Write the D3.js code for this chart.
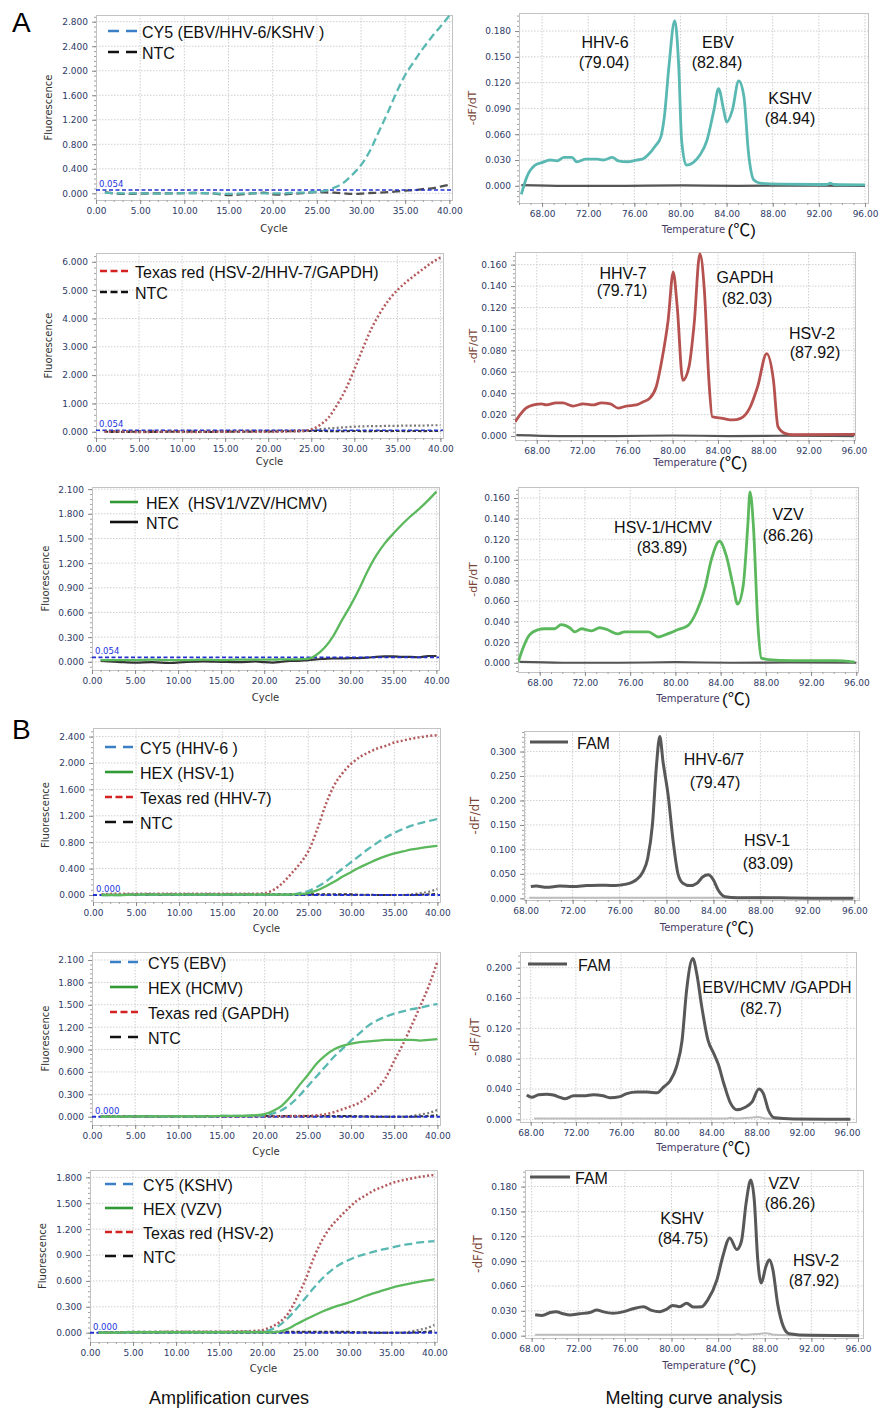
<!DOCTYPE html>
<html><head><meta charset="utf-8">
<script src="https://cdn.jsdelivr.net/npm/d3@7"></script>
<style>body{margin:0;background:#fff}svg{display:block}text{white-space:pre}</style>
</head><body>
<svg id="c" width="891" height="1409"></svg>
<script>
// ---------------- DATA ----------------
const ampCycles = [1,3,5,7,9,11,13,15,17,19,20,21,22,23,24,25,26,27,28,29,30,31,32,33,34,35,36,37,38,39,40];
const ampXTicks = [0,5,10,15,20,25,30,35,40];
const meltXTicks = [68,72,76,80,84,88,92,96];

// A1 amplification
const a1Cy5 = [0.01,0.0,0.0,-0.005,0.0,0.005,0.0,-0.01,0.0,0.0, 0.0,0.0,0.005,0.01,0.015, 0.027,0.045,0.095,0.17,0.30,0.46,0.69,1.0,1.31,1.64,1.93,2.15,2.36,2.55,2.72,2.90];
const a1Ntc = [0.02,-0.01,-0.005,0.0,0.0,0.005,0.0,-0.03,-0.01,0.01, -0.015,-0.02,-0.01,0.0,0.01, 0.02,0.015,0.01,0.0,-0.01,-0.005,0.005,0.01,0.02,0.03,0.045,0.05,0.07,0.08,0.11,0.14];
const a1AmpYTicks = [0,0.4,0.8,1.2,1.6,2.0,2.4,2.8];
// A2 amplification
const a2TexasRed = [0.0,0.01,-0.01,0.0,0.01,-0.01,0.0,0.0,0.01,0.0, 0.0,0.005,0.01,0.02,0.03, 0.08,0.24,0.5,0.95,1.5,2.2,2.95,3.65,4.2,4.65,5.0,5.28,5.52,5.75,5.97,6.15];
const a2Ntc = [0.0,-0.01,0.0,-0.01,0.0,0.0,-0.01,0.0,0.0,0.01, 0.01,0.01,0.02,0.02,0.02, 0.03,0.03,0.02,0.02,0.02,0.03,0.02,0.02,0.03,0.02,0.03,0.02,0.03,0.02,0.03,0.02];
const a2NtcLate = [0.03,0.02,0.02,0.03,0.02,0.03,0.02,0.03,0.03,0.03, 0.03,0.04,0.04,0.04,0.05, 0.06,0.09,0.12,0.14,0.16,0.18,0.19,0.2,0.2,0.21,0.21,0.22,0.22,0.22,0.23,0.23];
const a2AmpYTicks = [0,1,2,3,4,5,6];
// A3 amplification
const a3Hex = [0.02,0.02,0.02,0.025,0.02,0.02,0.025,0.02,0.025,0.025, 0.025,0.025,0.03,0.03,0.03, 0.035,0.08,0.17,0.31,0.5,0.68,0.88,1.1,1.29,1.44,1.56,1.67,1.77,1.86,1.96,2.07];
const a3Ntc = [0.01,0.0,-0.01,-0.005,-0.015,0.0,0.005,0.0,-0.005,0.005, -0.005,-0.01,0.0,0.01,0.01, 0.02,0.03,0.035,0.04,0.04,0.045,0.045,0.05,0.06,0.065,0.065,0.06,0.06,0.055,0.07,0.07];
const a3AmpYTicks = [0,0.3,0.6,0.9,1.2,1.5,1.8,2.1];
// B1 amplification
const b1TexasRed = [0.01,0.02,0.02,0.02,0.02,0.02,0.02,0.02,0.02,0.02, 0.03,0.08,0.18,0.32,0.47, 0.66,0.98,1.36,1.66,1.85,1.99,2.09,2.16,2.22,2.26,2.31,2.34,2.37,2.39,2.41,2.42];
const b1Cy5 = [0.0,0.0,0.005,0.005,0.005,0.005,0.005,0.005,0.005,0.005, 0.005,0.005,0.005,0.01,0.03, 0.06,0.12,0.2,0.3,0.4,0.5,0.6,0.7,0.79,0.87,0.94,1.0,1.05,1.09,1.12,1.15];
const b1Hex = [0.0,0.0,0.005,0.005,0.005,0.005,0.005,0.005,0.005,0.005, 0.005,0.005,0.005,0.005,0.015, 0.03,0.07,0.13,0.2,0.28,0.35,0.42,0.48,0.54,0.59,0.63,0.66,0.69,0.71,0.73,0.745];
const b1AmpYTicks = [0,0.4,0.8,1.2,1.6,2.0,2.4];
// B2 amplification
const b2Hex = [0.0,0.0,0.005,0.005,0.005,0.005,0.005,0.01,0.01,0.02, 0.036,0.08,0.15,0.27,0.42, 0.56,0.71,0.82,0.9,0.95,0.98,1.0,1.01,1.02,1.03,1.03,1.03,1.03,1.02,1.03,1.04];
const b2Cy5 = [0.0,0.0,0.005,0.005,0.005,0.005,0.005,0.01,0.01,0.015, 0.02,0.045,0.09,0.17,0.28, 0.41,0.54,0.67,0.8,0.91,1.02,1.12,1.22,1.29,1.34,1.38,1.41,1.44,1.46,1.49,1.51];
const b2TexasRed = [0.0,0.0,0.0,0.005,0.005,0.005,0.005,0.005,0.005,0.005, 0.005,0.005,0.005,0.01,0.01, 0.01,0.02,0.03,0.06,0.1,0.14,0.19,0.27,0.37,0.52,0.75,0.97,1.22,1.48,1.75,2.08];
const b2AmpYTicks = [0,0.3,0.6,0.9,1.2,1.5,1.8,2.1];
// B3 amplification
const b3TexasRed = [0.0,0.0,0.005,0.005,0.01,0.01,0.01,0.01,0.015,0.02, 0.03,0.065,0.12,0.22,0.4, 0.61,0.87,1.08,1.23,1.34,1.44,1.53,1.59,1.65,1.69,1.73,1.76,1.78,1.8,1.815,1.83];
const b3Cy5 = [0.0,0.0,0.005,0.005,0.005,0.005,0.005,0.005,0.01,0.01, 0.01,0.035,0.085,0.17,0.28, 0.4,0.52,0.63,0.72,0.79,0.84,0.88,0.91,0.94,0.965,0.985,1.01,1.025,1.043,1.053,1.062];
const b3Hex = [0.0,0.0,0.005,0.005,0.005,0.005,0.005,0.005,0.005,0.005, 0.005,0.005,0.012,0.045,0.1, 0.15,0.2,0.245,0.285,0.318,0.348,0.385,0.425,0.458,0.49,0.52,0.545,0.566,0.585,0.603,0.618];
const b3AmpYTicks = [0,0.3,0.6,0.9,1.2,1.5,1.8];
// NTC in B panels
const bNtc = [0.005,0.005,0.01,0.01,0.01,0.01,0.01,0.01,0.01,0.01, 0.01,0.01,0.01,0.01,0.01, 0.01,0.01,0.01,0.01,0.01,0.01,0.005,0.005,0.0,0.0,0.0,0.0,0.0,0.005,0.01,0.02];
const bNtcLate = [0,0,0,0,0,0,0,0,0,0, 0,0,0,0,0, 0,0,0,0,0,0,0,0,0,0,0,0,0.01,0.03,0.05,0.09];

// Melting curves
const a1MeltT = [66.2,66.7,67.4,68.0,68.7,69.3,69.9,70.6,71.0,71.8,72.8,73.3,74.1,74.6,75.4,76.2,76.7,77.2,77.8,78.3,78.6,79.0,79.5,79.85,80.1,80.5,81.1,81.7,82.3,82.9,83.3,83.75,84.0,84.5,85.05,85.5,85.9,86.35,86.9,88.7,92.7,93.0,93.3,96.0];
const a1MeltV = [-0.010,0.011,0.024,0.027,0.030,0.029,0.033,0.033,0.028,0.031,0.031,0.030,0.033,0.029,0.028,0.030,0.031,0.036,0.046,0.057,0.080,0.139,0.192,0.139,0.053,0.024,0.027,0.036,0.053,0.088,0.113,0.088,0.074,0.088,0.122,0.104,0.038,0.007,0.003,0.002,0.0015,0.003,0.0015,0.001];
const a1MeltYTicks = [0,0.03,0.06,0.09,0.12,0.15,0.18];
const a2MeltT = [66.1,66.6,67.05,67.95,68.4,68.85,69.7,70.3,71.2,72.1,73.0,73.7,74.5,75.2,75.9,76.8,77.4,77.95,78.55,79.1,79.6,80.05,80.4,80.9,81.45,81.9,82.4,82.8,83.2,83.5,84.4,85.3,86.0,86.8,87.5,88.3,88.9,89.3,89.9,90.6,96.1];
const a2MeltV = [0.0134,0.021,0.026,0.0295,0.030,0.029,0.031,0.031,0.028,0.030,0.029,0.031,0.030,0.026,0.028,0.029,0.032,0.035,0.046,0.074,0.108,0.153,0.121,0.052,0.065,0.105,0.170,0.136,0.052,0.018,0.0165,0.015,0.0165,0.026,0.046,0.077,0.052,0.0087,0.0025,0.0012,0.0015];
const a2MeltYTicks = [0,0.02,0.04,0.06,0.08,0.10,0.12,0.14,0.16];
const a3MeltT = [66.1,66.5,67.1,67.85,68.4,69.3,69.9,70.65,71.1,71.7,72.6,73.3,74.0,74.9,75.5,76.7,77.6,78.5,79.3,80.2,81.1,81.85,82.6,83.2,83.9,84.5,85.1,85.5,86.0,86.4,86.6,86.9,87.3,87.6,88.2,90.3,94.1,95.85];
const a3MeltV = [0.0006,0.0136,0.027,0.032,0.033,0.033,0.037,0.034,0.030,0.033,0.031,0.034,0.032,0.028,0.030,0.030,0.030,0.025,0.028,0.032,0.036,0.049,0.072,0.101,0.118,0.104,0.075,0.057,0.075,0.133,0.166,0.133,0.036,0.0045,0.003,0.002,0.002,0.0006];
const a3MeltYTicks = [0,0.02,0.04,0.06,0.08,0.10,0.12,0.14,0.16];
const aNtcMeltT = [66.2,70,75,80,85,90,96];
const aNtcMeltV = [0.0008,0.0,0.0,0.0005,0.0,0.0003,0.0];
const b1MeltT = [68.44,68.9,69.8,70.9,72.05,73.2,74.3,75.45,76.0,76.9,77.4,78.0,78.4,78.8,79.15,79.43,79.7,80.14,80.57,81.0,81.4,82.0,82.6,83.1,83.55,84.0,84.4,85.0,86.0,87.95,90.8,95.9];
const b1MeltV = [0.024,0.025,0.0225,0.025,0.024,0.026,0.027,0.026,0.027,0.031,0.0375,0.0545,0.082,0.15,0.273,0.331,0.28,0.211,0.116,0.048,0.031,0.026,0.031,0.044,0.048,0.0375,0.017,0.0034,0.0014,0.0014,0.0007,0.0];
const b1MeltYTicks = [0,0.05,0.10,0.15,0.20,0.25,0.30];
const b2MeltT = [67.65,68.1,68.7,69.4,70.0,70.6,71.0,71.8,72.7,73.55,74.4,75.0,75.9,76.5,77.4,78.3,79.2,79.75,80.35,80.9,81.4,81.8,82.35,82.7,83.15,83.7,84.2,84.6,85.1,85.7,86.25,87.0,87.6,88.2,88.6,89.05,89.6,91.3,96.3];
const b2MeltV = [0.032,0.029,0.0325,0.033,0.032,0.029,0.027,0.031,0.031,0.0325,0.031,0.0285,0.030,0.034,0.036,0.036,0.035,0.0425,0.051,0.069,0.104,0.170,0.212,0.192,0.148,0.104,0.087,0.073,0.047,0.021,0.0127,0.016,0.023,0.040,0.034,0.012,0.002,0.0004,0.0];
const b2MeltYTicks = [0,0.04,0.08,0.12,0.16,0.20];
const b3MeltT = [68.3,68.9,69.6,70.1,70.7,71.3,72.1,73.0,73.6,74.1,75.0,75.9,76.7,77.6,78.3,79.0,79.6,80.1,80.7,81.3,81.9,82.6,83.1,83.9,84.4,85.0,85.6,86.0,86.4,86.8,87.1,87.4,87.7,88.1,88.4,88.7,89.1,89.6,90.1,91.9,96.1];
const b3MeltV = [0.0253,0.0245,0.028,0.029,0.0265,0.025,0.0265,0.028,0.031,0.029,0.027,0.029,0.0325,0.035,0.0305,0.029,0.032,0.0365,0.035,0.039,0.0345,0.035,0.043,0.0675,0.0956,0.118,0.104,0.114,0.16,0.188,0.164,0.0916,0.0635,0.0836,0.0916,0.0795,0.039,0.011,0.0024,0.0004,0.0];
const b3MeltYTicks = [0,0.03,0.06,0.09,0.12,0.15,0.18];
const bNtcMeltT = [68.3,75,80,85.3,85.7,86.1,87.4,88.1,88.8,90,96];
const bNtcMeltV = [0.001,0.001,0.001,0.001,0.002,0.001,0.002,0.003,0.001,0.0005,0.0005];

// ---------------- STYLES ----------------
const TICKFONT = "'DejaVu Sans', Verdana, sans-serif";
const TEXTFONT = "'Liberation Sans', Arial, 'Noto Sans CJK SC', sans-serif";
const C = {
  teal: '#5ab8b2', red: '#b45a5d', green: '#5bb85d', ntc: '#505050',
  legCy5: '#3b7fc6', legHex: '#2f9a33', legRed: '#d42222', legNtc: '#111',
  thr: '#2230d0', tick: '#2e3a66'
};
const S = {
  cy5: {stroke: C.teal, w: 2.3, dash: '8,4'},
  tred: {stroke: C.red, w: 2.5, dash: '2,2.3'},
  hex: {stroke: C.green, w: 2.3, dash: null},
  ntcDash: {stroke: C.ntc, w: 2.3, dash: '8,4'},
  ntcShort: {stroke: '#333', w: 2, dash: '3.5,2'},
  ntcSolid: {stroke: '#333', w: 2.2, dash: null},
  ntcDot: {stroke: '#7a7a7a', w: 2.2, dash: '2,2.3'}
};
const LEG = {
  cy5: {stroke: C.legCy5, dash: '11,7'},
  hex: {stroke: C.legHex, dash: null},
  tred: {stroke: C.legRed, dash: '7,3.5'},
  ntcLong: {stroke: C.legNtc, dash: '11,7'},
  ntcShort: {stroke: C.legNtc, dash: '7,3.5'},
  ntcSolid: {stroke: C.legNtc, dash: null},
  fam: {stroke: '#555', dash: null}
};

const svg = d3.select('#c');
const defs = svg.append('defs');
let clipN = 0;

function minorVals(domain, step) {
  const lo = Math.ceil(domain[0] / step - 1e-9), hi = Math.floor(domain[1] / step + 1e-9);
  return d3.range(lo, hi + 1).map(i => +(i * step).toFixed(6));
}

function frame(cfg, x, y) {
  const b = cfg.box;
  const g = svg.append('g');
  g.append('rect').attr('x', b.l).attr('y', b.t).attr('width', b.r - b.l).attr('height', b.b - b.t)
    .attr('fill', '#fff');
  g.append('g').selectAll('line').data(cfg.xTicks.filter(v => x(v) > b.l + 1 && x(v) < b.r - 1)).join('line')
    .attr('x1', d => x(d)).attr('x2', d => x(d)).attr('y1', b.t).attr('y2', b.b)
    .attr('stroke', '#cfcfcf').attr('stroke-dasharray', '1.5,1.5');
  g.append('g').selectAll('line').data(cfg.yTicks).join('line')
    .attr('x1', b.l).attr('x2', b.r).attr('y1', d => y(d)).attr('y2', d => y(d))
    .attr('stroke', '#cfcfcf').attr('stroke-dasharray', '1.5,1.5');
  g.append('rect').attr('x', b.l + 0.5).attr('y', b.t + 0.5).attr('width', b.r - b.l).attr('height', b.b - b.t)
    .attr('fill', 'none').attr('stroke', '#c3c3c3');

  const xs = cfg.xTicks[1] - cfg.xTicks[0], ys = cfg.yTicks[1] - cfg.yTicks[0];
  const xm = g.append('g').attr('transform', `translate(0,${b.b})`)
    .call(d3.axisBottom(x).tickValues(minorVals(x.domain(), xs / cfg.xSub)).tickFormat(() => '').tickSize(2));
  xm.select('.domain').remove(); xm.selectAll('line').attr('stroke', '#a0a0a0');
  const ym = g.append('g').attr('transform', `translate(${b.l},0)`)
    .call(d3.axisLeft(y).tickValues(minorVals(y.domain(), ys / 5)).tickFormat(() => '').tickSize(2));
  ym.select('.domain').remove(); ym.selectAll('line').attr('stroke', '#a0a0a0');
  const xa = g.append('g').attr('transform', `translate(0,${b.b})`)
    .call(d3.axisBottom(x).tickValues(cfg.xTicks).tickFormat(d3.format('.2f')).tickSize(4).tickPadding(4));
  xa.select('.domain').remove();
  xa.attr('font-family', TICKFONT).attr('font-size', 9);
  xa.selectAll('line').attr('stroke', '#8a8a8a');
  xa.selectAll('text').attr('fill', C.tick);
  const ya = g.append('g').attr('transform', `translate(${b.l},0)`)
    .call(d3.axisLeft(y).tickValues(cfg.yTicks).tickFormat(d3.format('.3f')).tickSize(4).tickPadding(4));
  ya.select('.domain').remove();
  ya.attr('font-family', TICKFONT).attr('font-size', 9);
  ya.selectAll('line').attr('stroke', '#8a8a8a');
  ya.selectAll('text').attr('fill', C.tick);

  const id = 'clip' + (clipN++);
  defs.append('clipPath').attr('id', id).append('rect')
    .attr('x', b.l).attr('y', b.t).attr('width', b.r - b.l).attr('height', b.b - b.t);
  return g.append('g').attr('clip-path', `url(#${id})`);
}

function curve(plot, x, y, xs, vs, st) {
  const line = d3.line().x(d => x(d[0])).y(d => y(d[1])).curve(d3.curveMonotoneX);
  const p = plot.append('path').datum(d3.zip(xs, vs)).attr('d', line)
    .attr('fill', 'none').attr('stroke', st.stroke).attr('stroke-width', st.w)
    .attr('stroke-linejoin', 'round');
  if (st.dash) p.attr('stroke-dasharray', st.dash);
}

function legend(items, L) {
  const g = svg.append('g');
  items.forEach((it, i) => {
    const yy = L.y + i * L.dy;
    const ln = g.append('line').attr('x1', L.x1).attr('x2', L.x2).attr('y1', yy - 1).attr('y2', yy - 1)
      .attr('stroke', it.st.stroke).attr('stroke-width', it.w || 2.6);
    if (it.st.dash) ln.attr('stroke-dasharray', it.st.dash);
    g.append('text').attr('x', L.tx).attr('y', yy + 5.5).text(it.label)
      .attr('font-family', TEXTFONT).attr('font-size', 16).attr('fill', '#111');
  });
}

function notes(list) {
  svg.append('g').selectAll('text').data(list).join('text')
    .attr('x', d => d[1]).attr('y', d => d[2] + 5.5).attr('text-anchor', 'middle')
    .attr('font-family', TEXTFONT).attr('font-size', 16).attr('fill', '#111').text(d => d[0]);
}

function drawAmp(cfg) {
  const b = cfg.box;
  const x = d3.scaleLinear().domain([0, 40.3]).range([b.l, b.r]);
  const y = d3.scaleLinear().domain(cfg.yDomain).range([b.b, b.t]);
  const plot = frame({box: b, xTicks: ampXTicks, yTicks: cfg.yTicks, xSub: 5}, x, y);
  cfg.under.forEach(s => curve(plot, x, y, ampCycles, s.v, s.st));
  plot.append('line').attr('x1', b.l).attr('x2', b.r).attr('y1', y(cfg.thr)).attr('y2', y(cfg.thr))
    .attr('stroke', C.thr).attr('stroke-width', cfg.thrW || 1.6).attr('stroke-dasharray', '4,2.5');
  cfg.series.forEach(s => curve(plot, x, y, ampCycles, s.v, s.st));
  svg.append('text').attr('x', b.l + 3).attr('y', y(cfg.thr) - 3).text(d3.format('.3f')(cfg.thr))
    .attr('font-family', TICKFONT).attr('font-size', 8.5).attr('fill', '#2233dd');
  svg.append('text').attr('transform', `translate(${cfg.ylx},${(b.t + b.b) / 2}) rotate(-90)`)
    .attr('text-anchor', 'middle').attr('dominant-baseline', 'central')
    .attr('font-family', TICKFONT).attr('font-size', 10).attr('fill', '#333').text('Fluorescence');
  svg.append('text').attr('x', (b.l + b.r) / 2).attr('y', b.b + cfg.xlOff).attr('text-anchor', 'middle')
    .attr('font-family', TICKFONT).attr('font-size', 10).attr('fill', '#333').text('Cycle');
  legend(cfg.legend, cfg.legPos);
}

function drawMelt(cfg) {
  const b = cfg.box;
  const x = d3.scaleLinear().domain(cfg.xDomain).range([b.l, b.r]);
  const y = d3.scaleLinear().domain(cfg.yDomain).range([b.b, b.t]);
  const plot = frame({box: b, xTicks: meltXTicks, yTicks: cfg.yTicks, xSub: 4}, x, y);
  cfg.under.forEach(s => curve(plot, x, y, s.t, s.v, s.st));
  cfg.series.forEach(s => curve(plot, x, y, s.t, s.v, s.st));
  svg.append('text').attr('transform', `translate(${cfg.ylx},${(b.t + b.b) / 2}) rotate(-90)`)
    .attr('text-anchor', 'middle').attr('dominant-baseline', 'central')
    .attr('font-family', TICKFONT).attr('font-size', cfg.ylSize || 11).attr('fill', '#7a4536').text('-dF/dT');
  const cx = (b.l + b.r) / 2;
  svg.append('text').attr('x', cx).attr('y', b.b + cfg.xlOff).attr('text-anchor', 'middle')
    .attr('font-family', TICKFONT).attr('font-size', 10).attr('fill', '#463a66').text('Temperature');
  svg.append('text').attr('x', cx + 34).attr('y', b.b + cfg.xlOff + 3)
    .attr('font-family', TEXTFONT).attr('font-size', 17).attr('fill', '#111').text('(\u2103)');
  if (cfg.legend) legend(cfg.legend, cfg.legPos);
  notes(cfg.notes);
}

// ---------------- PANELS ----------------
drawAmp({
  box: {l: 96, r: 452, t: 15, b: 200}, yDomain: [-0.109, 2.909], yTicks: a1AmpYTicks, thr: 0.054,
  under: [{v: a1Ntc, st: S.ntcDash}],
  series: [{v: a1Cy5, st: S.cy5}],
  ylx: 48, xlOff: 32,
  legend: [{label: 'CY5 (EBV/HHV-6/KSHV )', st: LEG.cy5}, {label: 'NTC', st: LEG.ntcLong}],
  legPos: {x1: 108, x2: 137, tx: 142, y: 32, dy: 21}
});
drawAmp({
  box: {l: 96, r: 443, t: 253, b: 438}, yDomain: [-0.22, 6.31], yTicks: a2AmpYTicks, thr: 0.054,
  under: [{v: a2NtcLate, st: S.ntcDot}, {v: a2Ntc, st: S.ntcShort}],
  series: [{v: a2TexasRed, st: S.tred}],
  ylx: 48, xlOff: 27,
  legend: [{label: 'Texas red (HSV-2/HHV-7/GAPDH)', st: LEG.tred}, {label: 'NTC', st: LEG.ntcShort}],
  legPos: {x1: 100, x2: 130, tx: 135, y: 272, dy: 21}
});
drawAmp({
  box: {l: 92, r: 439, t: 487, b: 670}, yDomain: [-0.10, 2.126], yTicks: a3AmpYTicks, thr: 0.054,
  under: [{v: a3Ntc, st: S.ntcSolid}],
  series: [{v: a3Hex, st: S.hex}],
  ylx: 45, xlOff: 31,
  legend: [{label: 'HEX\u00a0 (HSV1/VZV/HCMV)', st: LEG.hex}, {label: 'NTC', st: LEG.ntcSolid}],
  legPos: {x1: 110, x2: 138, tx: 146, y: 503, dy: 20}
});
drawAmp({
  box: {l: 93, r: 440, t: 728, b: 902}, yDomain: [-0.106, 2.53], yTicks: b1AmpYTicks, thr: 0, thrW: 2,
  under: [{v: bNtcLate, st: S.ntcDot}, {v: bNtc, st: S.ntcShort}],
  series: [{v: b1TexasRed, st: S.tred}, {v: b1Cy5, st: S.cy5}, {v: b1Hex, st: S.hex}],
  ylx: 45, xlOff: 30,
  legend: [{label: 'CY5 (HHV-6 )', st: LEG.cy5}, {label: 'HEX (HSV-1)', st: LEG.hex},
           {label: 'Texas red (HHV-7)', st: LEG.tred}, {label: 'NTC', st: LEG.ntcLong}],
  legPos: {x1: 105, x2: 133, tx: 140, y: 748, dy: 25}
});
drawAmp({
  box: {l: 92, r: 440, t: 952, b: 1125}, yDomain: [-0.111, 2.207], yTicks: b2AmpYTicks, thr: 0, thrW: 2,
  under: [{v: bNtcLate, st: S.ntcDot}, {v: bNtc, st: S.ntcShort}],
  series: [{v: b2TexasRed, st: S.tred}, {v: b2Cy5, st: S.cy5}, {v: b2Hex, st: S.hex}],
  ylx: 45, xlOff: 30,
  legend: [{label: 'CY5 (EBV)', st: LEG.cy5}, {label: 'HEX (HCMV)', st: LEG.hex},
           {label: 'Texas red (GAPDH)', st: LEG.tred}, {label: 'NTC', st: LEG.ntcLong}],
  legPos: {x1: 110, x2: 138, tx: 148, y: 963, dy: 25}
});
drawAmp({
  box: {l: 90, r: 437, t: 1170, b: 1342}, yDomain: [-0.108, 1.885], yTicks: b3AmpYTicks, thr: 0, thrW: 2,
  under: [{v: bNtcLate, st: S.ntcDot}, {v: bNtc, st: S.ntcShort}],
  series: [{v: b3TexasRed, st: S.tred}, {v: b3Cy5, st: S.cy5}, {v: b3Hex, st: S.hex}],
  ylx: 42, xlOff: 30,
  legend: [{label: 'CY5 (KSHV)', st: LEG.cy5}, {label: 'HEX (VZV)', st: LEG.hex},
           {label: 'Texas red (HSV-2)', st: LEG.tred}, {label: 'NTC', st: LEG.ntcLong}],
  legPos: {x1: 105, x2: 133, tx: 143, y: 1185, dy: 24}
});

const meltA = c => ({stroke: c, w: 2.8, dash: null});
const meltNtcA = {stroke: '#555', w: 2.2, dash: null};
const meltB = {stroke: '#585858', w: 3, dash: null};
const meltNtcB = {stroke: '#bdbdbd', w: 2, dash: null};

drawMelt({
  box: {l: 519, r: 868, t: 13, b: 203}, xDomain: [66.0, 96.26], yDomain: [-0.020, 0.201], yTicks: a1MeltYTicks,
  under: [{t: aNtcMeltT, v: aNtcMeltV, st: meltNtcA}],
  series: [{t: a1MeltT, v: a1MeltV, st: meltA(C.teal)}],
  ylx: 472, xlOff: 30,
  notes: [['HHV-6', 605, 42], ['(79.04)', 604, 62], ['EBV', 718, 42], ['(82.84)', 717, 62], ['KSHV', 790, 98], ['(84.94)', 790, 118]]
});
drawMelt({
  box: {l: 515, r: 855, t: 252, b: 440}, xDomain: [66.08, 96.1], yDomain: [-0.0037, 0.1718], yTicks: a2MeltYTicks,
  under: [{t: aNtcMeltT, v: aNtcMeltV, st: meltNtcA}],
  series: [{t: a2MeltT, v: a2MeltV, st: meltA('#b5514f')}],
  ylx: 473, xlOff: 26,
  notes: [['HHV-7', 623, 273], ['(79.71)', 622, 290], ['GAPDH', 745, 277], ['(82.03)', 747, 298], ['HSV-2', 812, 333], ['(87.92)', 815, 352]]
});
drawMelt({
  box: {l: 518, r: 858, t: 487, b: 672}, xDomain: [66.08, 96.15], yDomain: [-0.009, 0.1707], yTicks: a3MeltYTicks,
  under: [{t: aNtcMeltT, v: aNtcMeltV, st: meltNtcA}],
  series: [{t: a3MeltT, v: a3MeltV, st: meltA(C.green)}],
  ylx: 473, xlOff: 30,
  notes: [['HSV-1/HCMV', 663, 527], ['(83.89)', 662, 547], ['VZV', 788, 514], ['(86.26)', 788, 535]]
});
drawMelt({
  box: {l: 524, r: 859, t: 731, b: 900}, xDomain: [67.86, 96.4], yDomain: [-0.0034, 0.342], yTicks: b1MeltYTicks,
  under: [{t: bNtcMeltT, v: bNtcMeltV, st: meltNtcB}],
  series: [{t: b1MeltT, v: b1MeltV, st: meltB}],
  ylx: 475, ylSize: 12, xlOff: 31,
  legend: [{label: 'FAM', st: LEG.fam, w: 3}], legPos: {x1: 530, x2: 568, tx: 577, y: 743, dy: 0},
  notes: [['HHV-6/7', 714, 759], ['(79.47)', 715, 782], ['HSV-1', 767, 840], ['(83.09)', 768, 863]]
});
drawMelt({
  box: {l: 520, r: 856, t: 952, b: 1122}, xDomain: [67.05, 96.8], yDomain: [-0.0035, 0.2207], yTicks: b2MeltYTicks,
  under: [{t: bNtcMeltT, v: bNtcMeltV, st: meltNtcB}],
  series: [{t: b2MeltT, v: b2MeltV, st: meltB}],
  ylx: 475, ylSize: 12, xlOff: 29,
  legend: [{label: 'FAM', st: LEG.fam, w: 3}], legPos: {x1: 528, x2: 567, tx: 578, y: 965, dy: 0},
  notes: [['EBV/HCMV /GAPDH', 777, 987], ['(82.7)', 761, 1008]]
});
drawMelt({
  box: {l: 525, r: 863, t: 1170, b: 1338}, xDomain: [67.43, 96.43], yDomain: [-0.0028, 0.200], yTicks: b3MeltYTicks,
  under: [{t: bNtcMeltT, v: bNtcMeltV, st: meltNtcB}],
  series: [{t: b3MeltT, v: b3MeltV, st: meltB}],
  ylx: 478, ylSize: 12, xlOff: 31,
  legend: [{label: 'FAM', st: LEG.fam, w: 3}], legPos: {x1: 530, x2: 570, tx: 575, y: 1178, dy: 0},
  notes: [['KSHV', 682, 1218], ['(84.75)', 683, 1238], ['VZV', 784, 1183], ['(86.26)', 790, 1203], ['HSV-2', 816, 1260], ['(87.92)', 814, 1280]]
});

svg.append('text').attr('x', 12).attr('y', 32).attr('font-family', TEXTFONT).attr('font-size', 28).attr('fill', '#000').text('A');
svg.append('text').attr('x', 12).attr('y', 739).attr('font-family', TEXTFONT).attr('font-size', 28).attr('fill', '#000').text('B');
svg.append('text').attr('x', 229).attr('y', 1404).attr('text-anchor', 'middle').attr('font-family', TEXTFONT).attr('font-size', 18).attr('fill', '#111').text('Amplification curves');
svg.append('text').attr('x', 694).attr('y', 1404).attr('text-anchor', 'middle').attr('font-family', TEXTFONT).attr('font-size', 18).attr('fill', '#111').text('Melting curve analysis');
</script>
</body></html>
